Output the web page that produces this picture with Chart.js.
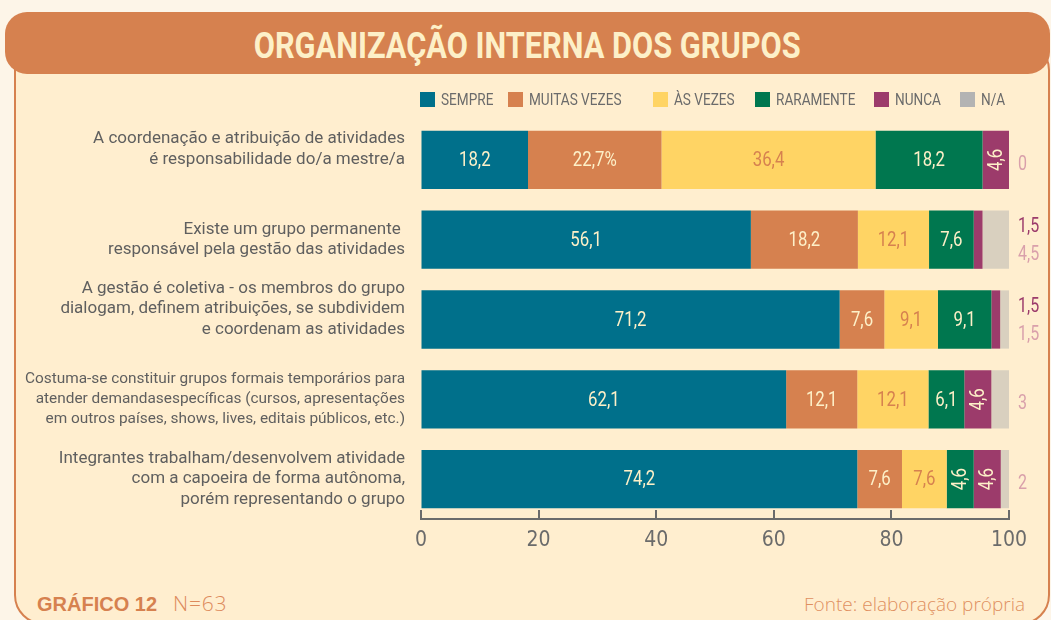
<!DOCTYPE html>
<html><head><meta charset="utf-8">
<script src="https://cdn.jsdelivr.net/npm/chart.js@4/dist/chart.umd.min.js"></script>
<style>
html,body{margin:0;padding:0;width:1051px;height:620px;overflow:hidden;background:#fdf5e8;}
#panel{position:absolute;left:14px;top:40px;width:1036px;height:585px;border:2px solid #d6814f;border-radius:30px;background:#ffeecf;box-sizing:border-box;}
#band{position:absolute;left:5px;top:12px;width:1045px;height:62px;border-radius:22px;background:#d6814f;}
#title{position:absolute;left:0;top:0;width:1054px;height:92px;text-align:center;white-space:nowrap;}
#title span{display:inline-block;font-family:Roboto,"Liberation Sans",sans-serif;font-weight:bold;font-size:36px;line-height:36px;color:#fdf0c8;margin-top:28px;transform-origin:50% 50%;}
#f1{position:absolute;left:37px;top:592px;font-family:"Liberation Sans",Arial,sans-serif;font-size:20px;line-height:22px;color:#d6814f;white-space:nowrap;}
#f1 b{font-weight:bold;}
#f1 span{font-family:"Open Sans","Liberation Sans",sans-serif;font-weight:300;font-size:21px;letter-spacing:0.8px;margin-left:16px;color:#dd8a5c;}
#f2{position:absolute;right:26px;top:593px;font-family:"Open Sans","Liberation Sans",sans-serif;font-weight:300;font-size:19px;line-height:22px;color:#e0905f;white-space:nowrap;}
#c{position:absolute;left:0;top:0;}
</style></head>
<body>
<div id="panel"></div>
<div id="band"></div>
<div id="title"><span id="tt">ORGANIZAÇÃO INTERNA DOS GRUPOS</span></div>
<div id="f1"><b>GRÁFICO 12</b><span>N=63</span></div>
<div id="f2">Fonte: elaboração própria</div>
<canvas id="c" width="1051" height="620"></canvas>
<script>
// ---- data ----
const categories = [
  ["A coordenação e atribuição de atividades", "é responsabilidade do/a mestre/a", ""],
  ["Existe um grupo permanente ", "responsável pela gestão das atividades"],
  ["A gestão é coletiva - os membros do grupo", "dialogam, definem atribuições, se subdividem", "e coordenam as atividades", ""],
  ["Costuma-se constituir grupos formais temporários para", "atender demandasespecíficas (cursos, apresentações", "em outros países, shows, lives, editais públicos, etc.)"],
  ["Integrantes trabalham/desenvolvem atividade", "com a capoeira de forma autônoma,", "porém representando o grupo"]
];
const seriesNames = ["SEMPRE", "MUITAS VEZES", "ÀS VEZES", "RARAMENTE", "NUNCA", "N/A"];
const sempre      = [18.2, 56.1, 71.2, 62.1, 74.2];
const muitasVezes = [22.7, 18.2, 7.6, 12.1, 7.6];
const asVezes     = [36.4, 12.1, 9.1, 12.1, 7.6];
const raramente   = [18.2, 7.6, 9.1, 6.1, 4.6];
const nunca       = [4.6, 1.5, 1.5, 4.6, 4.6];
const naoAplica   = [0, 4.5, 1.5, 3, 2];
const xTicks = [0, 20, 40, 60, 80, 100];
const labelSuffix = { "MUITAS VEZES": { 0: "%" } };

// ---- styles ----
const barColors = ["#00708b", "#d6814f", "#ffd464", "#00774f", "#9c3b6b", "#d9d0bf"];
const legendColors = ["#00708b", "#d6814f", "#ffd464", "#00774f", "#9c3b6b", "#b3b3b3"];
const legendX = [420, 508, 653, 755, 874, 960];
const COND = '"DejaVu Sans Condensed","DejaVu Sans",sans-serif';
const SQ = 0.8; // horizontal compression for condensed look

const seriesData = [sempre, muitasVezes, asVezes, raramente, nunca, naoAplica];
const fmt = v => String(v).replace('.', ',');

// title compression
(function(){
  const tt = document.getElementById('tt');
  const w = tt.getBoundingClientRect().width;
  tt.style.transform = 'scaleX(' + (547 / w) + ')';
})();

function condText(ctx, txt, x, y, align, rot) {
  ctx.save();
  ctx.translate(x, y);
  if (rot) ctx.rotate(rot);
  ctx.scale(SQ, 1);
  ctx.textAlign = align;
  ctx.fillText(txt, 0, 0);
  ctx.restore();
}

const customPlugin = {
  id: 'custom',
  afterDraw(chart) {
    const ctx = chart.ctx;
    const area = chart.chartArea;
    // legend
    ctx.save();
    ctx.font = '17px Roboto';
    ctx.textBaseline = 'middle';
    seriesNames.forEach((n, i) => {
      ctx.fillStyle = legendColors[i];
      ctx.fillRect(legendX[i], 92, 15, 15);
      ctx.fillStyle = '#6b6b6b';
      condText(ctx, n, legendX[i] + 21, 100.5, 'left');
    });
    ctx.restore();

    // upward tick marks on x axis
    const xs = chart.scales.x;
    ctx.save();
    ctx.strokeStyle = '#6b6b6b';
    ctx.lineWidth = 2;
    xTicks.forEach(t => {
      const px = Math.round(xs.getPixelForValue(t));
      ctx.beginPath();
      ctx.moveTo(px, area.bottom);
      ctx.lineTo(px, area.bottom - 9);
      ctx.stroke();
    });
    ctx.restore();

    // value labels
    ctx.save();
    ctx.textBaseline = 'middle';
    ctx.font = '21px Roboto';
    chart.data.datasets.forEach((ds, i) => {
      const meta = chart.getDatasetMeta(i);
      meta.data.forEach((el, j) => {
        const v = ds.data[j];
        const name = seriesNames[i];
        if (i === 5 || (i === 4 && v < 3)) return; // outside labels handled below
        const cx = (el.x + el.base) / 2;
        const cy = el.y;
        const txt = fmt(v) + ((labelSuffix[name] && labelSuffix[name][j]) || '');
        ctx.fillStyle = i === 2 ? '#d6814f' : '#fdf0c8';
        if (v >= 6) {
          condText(ctx, txt, cx, cy + 1, 'center');
        } else {
          condText(ctx, txt, cx + 1, cy, 'center', -Math.PI / 2);
        }
      });
    });
    // outside labels (small NUNCA and N/A)
    const nMeta = chart.getDatasetMeta(4);
    ctx.font = '20px Roboto';
    categories.forEach((c, j) => {
      const cy = nMeta.data[j].y;
      const items = [];
      if (nunca[j] < 3) items.push({ v: nunca[j], color: '#9c3b6b' });
      items.push({ v: naoAplica[j], color: '#d9a0ab' });
      const offs = items.length === 2 ? [-13, 15] : [5];
      items.forEach((it, k) => {
        ctx.fillStyle = it.color;
        condText(ctx, fmt(it.v), area.right + 9, cy + offs[k], 'left');
      });
    });
    ctx.restore();
  }
};

new Chart(document.getElementById('c'), {
  type: 'bar',
  data: {
    labels: categories,
    datasets: seriesNames.map((n, i) => ({
      label: n,
      data: seriesData[i],
      backgroundColor: barColors[i],
      borderWidth: 0,
      barPercentage: 0.73,
      categoryPercentage: 1
    }))
  },
  options: {
    indexAxis: 'y',
    responsive: false,
    animation: false,
    devicePixelRatio: 1,
    layout: { padding: { top: 120, right: 42, bottom: 61, left: 0 } },
    plugins: { legend: { display: false }, tooltip: { enabled: false } },
    scales: {
      x: {
        stacked: true, min: 0, max: 100,
        grid: { display: true, drawOnChartArea: false, drawTicks: false },
        border: { display: true, color: '#6b6b6b', width: 2 },
        ticks: { font: { family: COND, size: 21 }, color: '#6b6b6b', padding: 9, maxRotation: 0, autoSkip: false },
        afterBuildTicks(s) { s.ticks = xTicks.map(v => ({ value: v })); },
        afterFit(s) { s.height = 40; }
      },
      y: {
        stacked: true,
        grid: { display: false, drawTicks: false },
        border: { display: false },
        ticks: {
          font: c => (c.index === 3
            ? { family: 'Roboto', size: 15.4, lineHeight: 1.32 }
            : { family: 'Roboto', size: 17, lineHeight: 1.22 }),
          color: '#5f5f5f', padding: 16, autoSkip: false
        },
        afterFit(s) { s.width = 421; }
      }
    }
  },
  plugins: [customPlugin]
});
</script>
</body></html>
